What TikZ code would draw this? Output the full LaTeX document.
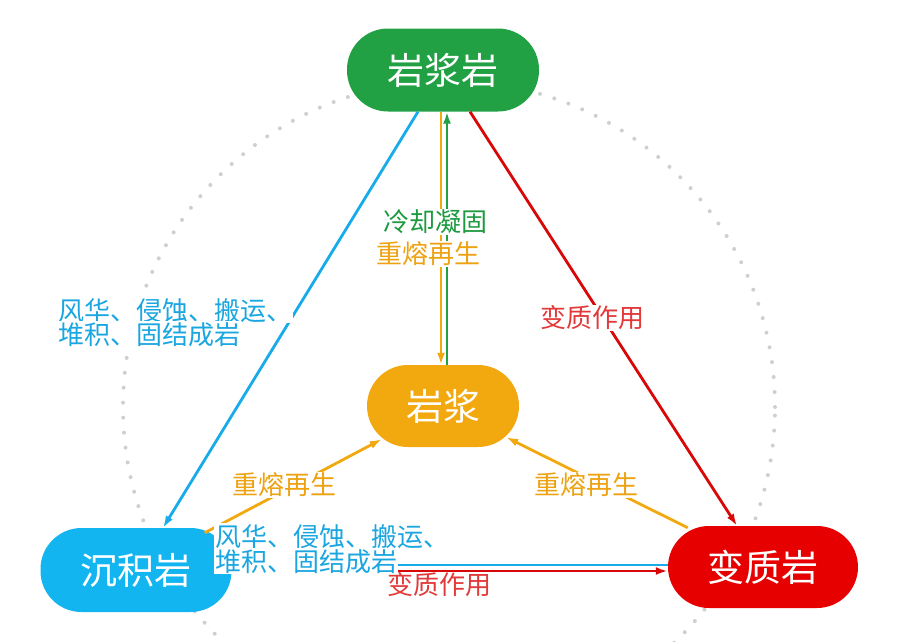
\documentclass[tikz,border=0pt]{standalone}
\usepackage{fontspec}
\setmainfont{Noto Sans CJK SC}
\usetikzlibrary{arrows.meta}
\definecolor{cgreen}{HTML}{21A044}
\definecolor{corange}{HTML}{F2A80F}
\definecolor{cblue}{HTML}{12B5F0}
\definecolor{cred}{HTML}{E60000}
\definecolor{lblue}{HTML}{17ABEA}
\definecolor{lred}{HTML}{D80808}
\definecolor{tgreen}{HTML}{1E9A40}
\definecolor{tblue}{HTML}{1AA6E0}
\definecolor{tred}{HTML}{E23A3A}
\definecolor{torange}{HTML}{EDA212}
\definecolor{dotgray}{HTML}{CFCFCF}
\begin{document}
\begin{tikzpicture}[x=1pt,y=-1pt,
  rock/.style={rounded corners=41pt, minimum height=83pt, text=white,
    font=\fontsize{37}{40}\selectfont, inner sep=0pt},
  lab/.style={fill=white, inner sep=1pt, font=\fontsize{26}{25}\selectfont},
  conn/.style={line width=2.8pt, -{Latex[length=12pt,width=8pt]}},
]
\useasboundingbox (0,0) rectangle (900,641);
\draw[dotgray, line width=4pt, line cap=round, dash pattern=on 0pt off 15pt]
  (449,407) circle (326pt);

\node[rock, fill=cgreen, minimum width=192pt] (yjy) at (443,70) {岩浆岩};
\node[rock, fill=corange, minimum width=152pt, minimum height=82pt] (yj) at (443,406) {岩浆};
\node[rock, fill=cblue, minimum width=191pt, minimum height=84pt] (cjy) at (136,570) {沉积岩};
\node[rock, fill=cred, minimum width=190pt, minimum height=82pt] (bzy) at (763,567) {变质岩};

\draw[conn, lblue] ([xshift=-25pt]yjy.south) -- ([xshift=27pt]cjy.north);
\draw[conn, lred] ([xshift=27pt]yjy.south) -- ([xshift=-26pt]bzy.north);
\draw[conn, corange] ([xshift=-2pt]yjy.south) -- ([xshift=-2pt]yj.north);
\draw[conn, cgreen] ([xshift=4pt]yj.north) -- ([xshift=4pt]yjy.south);
\draw[conn, corange] ([xshift=-27pt,yshift=-5pt]cjy.north east) -- ([xshift=15pt,yshift=8pt]yj.south west);
\draw[conn, corange] ([xshift=20pt,yshift=-2pt]bzy.north west) -- ([xshift=-13pt,yshift=10pt]yj.south east);
\draw[conn, lred] ([yshift=-1pt]cjy.east) -- ([yshift=-4pt]bzy.west);
\draw[conn, lblue] ([yshift=2pt]bzy.west) -- ([yshift=5pt]cjy.east);

\node[lab, text=tgreen] (l1) at (435,222) {冷却凝固};
\node[lab, text=torange] (l2) at (428,254) {重熔再生};
\node[lab, text=torange] (l3) at (284,485) {重熔再生};
\node[lab, text=torange] (l4) at (586,485) {重熔再生};
\node[lab, text=tred] (l5) at (592,318) {变质作用};
\node[lab, text=tred] (l6) at (439,585) {变质作用};
\node[lab, text=tblue, anchor=base west] (l7) at (214,546) {风华、侵蚀、搬运、};
\node[lab, text=tblue, anchor=base west] (l8) at (214,571) {堆积、固结成岩};
\node[lab, text=tblue, anchor=base west] (l9) at (57,320) {风华、侵蚀、搬运、};
\node[lab, text=tblue, anchor=base west] (l10) at (57,344) {堆积、固结成岩};
\end{tikzpicture}
\end{document}
